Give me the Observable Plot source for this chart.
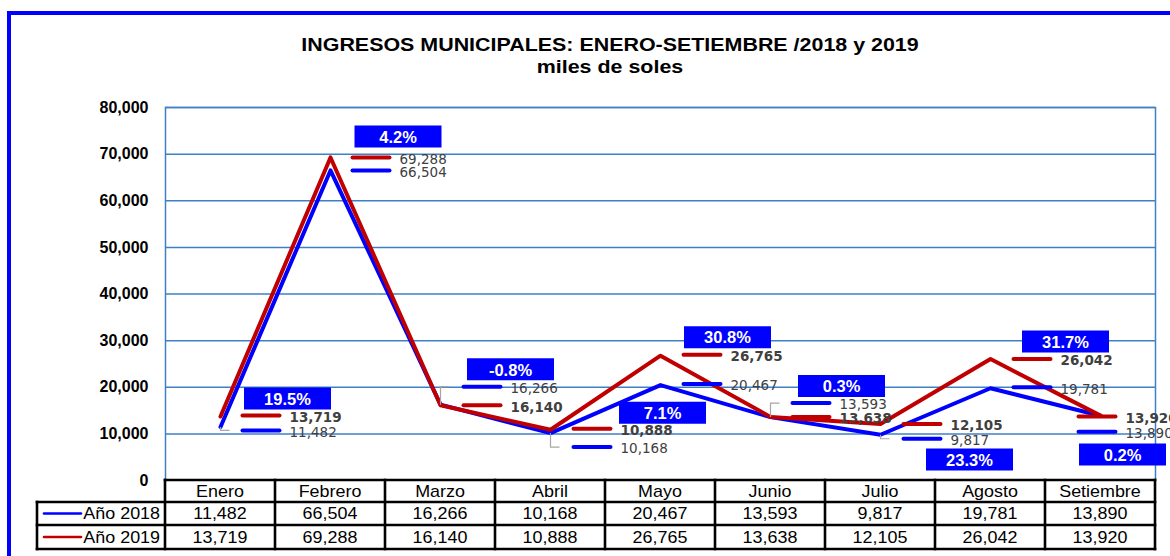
<!DOCTYPE html>
<html><head><meta charset="utf-8">
<script src="https://cdn.jsdelivr.net/npm/d3@7"></script>
<script src="https://cdn.jsdelivr.net/npm/@observablehq/plot@0.6"></script>
<style>
body{margin:0;background:#fff;}
#wrap{position:relative;width:1170px;height:556px;overflow:hidden;background:#fff;font-family:"Liberation Sans",Arial,sans-serif;}
#frame{position:absolute;left:7px;top:11px;width:1300px;height:700px;border-left:4px solid #0000ff;border-top:4px solid #0000ff;}
.t{position:absolute;left:0;width:1220px;text-align:center;font-weight:bold;font-size:18px;line-height:20px;color:#000;transform:scaleX(1.19);transform-origin:610px 0;}
#chart{position:absolute;left:0;top:0;}
</style></head>
<body>
<div id="wrap">
  <div id="frame"></div>
  <div id="chart"></div>
  <div class="t" id="title" style="top:35px">INGRESOS MUNICIPALES: ENERO-SETIEMBRE /2018 y 2019</div>
  <div class="t" id="subtitle" style="top:57px">miles de soles</div>
</div>
<script>
// ---- data ----
const months = ["Enero","Febrero","Marzo","Abril","Mayo","Junio","Julio","Agosto","Setiembre"];
const y2018 = [11482, 66504, 16266, 10168, 20467, 13593, 9817, 19781, 13890];
const y2019 = [13719, 69288, 16140, 10888, 26765, 13638, 12105, 26042, 13920];
const pctLabels = ["19.5%", "4.2%", "-0.8%", "7.1%", "30.8%", "0.3%", "23.3%", "31.7%", "0.2%"];
const seriesNames = ["Año 2018", "Año 2019"];
const yTicks = [0, 10000, 20000, 30000, 40000, 50000, 60000, 70000, 80000];

// ---- label layout (pixel offsets from each point / month) ----
const keyDx    = [20, 20, 21, 21, 21, 20, 21, 21, -24];
const key2019Dy = [-1, 0, 0, -1, -1, 0, 0, 0, 1];
const key2018Dy = [3.5, 0, -18, 14, -1, -14, 4, -1, 16];
const bold2019  = [true, false, true, true, true, true, true, true, true];
const leader2018 = [true, false, true, true, false, true, true, false, false];
const boxDx = [67, 67.5, 70, 112, 67, 71, 89, 75, 22];
const boxDy = [-18, -21, -36, -17, -18.5, -31, 35.5, -17.5, 39];

const BLUE = "#0000ff", RED = "#c00000", GRID = "#3f7fc6", LABEL = "#404040";
const fmt = d3.format(",");

const rows2018 = months.map((m, i) => ({m, v: y2018[i]}));
const rows2019 = months.map((m, i) => ({m, v: y2019[i]}));

const keySym = {draw(ctx) { ctx.moveTo(2, 0); ctx.lineTo(39, 0); }};
const boxSym = {draw(ctx) { ctx.rect(-43.5, -11, 87, 22); }};
const leaderSym = (ly) => ({draw(ctx) { ctx.moveTo(0, 0); ctx.lineTo(0, ly); ctx.lineTo(9, ly); }});

const marks = [
  Plot.ruleY(yTicks.filter(d => d > 0), {y: d => d, stroke: GRID, strokeWidth: 1.5}),
  Plot.frame({stroke: GRID, strokeWidth: 1.5}),
  Plot.text(yTicks, {y: d => d, frameAnchor: "left", text: d => fmt(d), textAnchor: "end", dx: -17,
    fontWeight: "bold", fontSize: 16, fill: "#000", fontFamily: "Liberation Sans, Arial, sans-serif"}),
  Plot.line(rows2018, {x: "m", y: "v", stroke: BLUE, strokeWidth: 4}),
  Plot.line(rows2019, {x: "m", y: "v", stroke: RED, strokeWidth: 4})
];

months.forEach((m, i) => {
  const d18 = [rows2018[i]], d19 = [rows2019[i]];
  if (leader2018[i]) {
    marks.push(Plot.dot(d18, {x: "m", y: "v", symbol: leaderSym(key2018Dy[i]), fill: "none", stroke: "#a6a6a6", strokeWidth: 1.2}));
  }
  marks.push(Plot.dot(d19, {x: "m", y: "v", symbol: keySym, fill: "none", stroke: RED, strokeWidth: 4, strokeLinecap: "round", dx: keyDx[i], dy: key2019Dy[i]}));
  marks.push(Plot.dot(d18, {x: "m", y: "v", symbol: keySym, fill: "none", stroke: BLUE, strokeWidth: 4, strokeLinecap: "round", dx: keyDx[i], dy: key2018Dy[i]}));
  marks.push(Plot.text(d19, {x: "m", y: "v", text: d => fmt(d.v), textAnchor: "start", dx: keyDx[i] + 49, dy: key2019Dy[i] + 2,
    fontFamily: "DejaVu Sans", fontSize: 13.5, fontWeight: bold2019[i] ? "bold" : "normal", fill: LABEL}));
  marks.push(Plot.text(d18, {x: "m", y: "v", text: d => fmt(d.v), textAnchor: "start", dx: keyDx[i] + 49, dy: key2018Dy[i] + 2,
    fontFamily: "DejaVu Sans", fontSize: 13.5, fontWeight: "normal", fill: LABEL}));
  marks.push(Plot.dot(d19, {x: "m", y: "v", symbol: boxSym, fill: BLUE, stroke: "none", dx: boxDx[i], dy: boxDy[i]}));
  marks.push(Plot.text(d19, {x: "m", y: "v", text: () => pctLabels[i], dx: boxDx[i], dy: boxDy[i] + 1,
    fill: "#fff", fontWeight: "bold", fontSize: 16.5, fontFamily: "Liberation Sans, Arial, sans-serif"}));
});

const chart = Plot.plot({
  width: 1170, height: 556,
  marginLeft: 165, marginRight: 15, marginTop: 107, marginBottom: 76,
  x: {type: "point", domain: months, padding: 0.5, axis: null},
  y: {domain: [0, 80000], axis: null},
  style: {background: "transparent", fontFamily: "Liberation Sans, Arial, sans-serif", fontSize: "13px", overflow: "visible"},
  marks
});
document.getElementById("chart").appendChild(chart);

// ---- data table below the chart, positioned with the chart's scales ----
const xs = chart.scale("x"), ys = chart.scale("y");
const step = xs.apply(months[1]) - xs.apply(months[0]);
const left = xs.apply(months[0]) - step / 2;
const right = xs.apply(months[months.length - 1]) + step / 2;
const y0 = ys.apply(0);
const rowH = [22, 23, 24];
const rY = [y0, y0 + rowH[0], y0 + rowH[0] + rowH[1], y0 + rowH[0] + rowH[1] + rowH[2]];
const legLeft = 37;
const svg = d3.select(chart);
const g = svg.append("g").attr("font-family", "Liberation Sans, Arial, sans-serif").attr("font-size", 16).attr("fill", "#000");
g.append("rect").attr("x", left).attr("y", rY[0]).attr("width", right - left).attr("height", rY[1] - rY[0]).attr("fill", "#fff");
g.append("rect").attr("x", legLeft).attr("y", rY[1]).attr("width", right - legLeft).attr("height", rY[3] - rY[1]).attr("fill", "#fff");
const line = (x1, y1, x2, y2) => g.append("line").attr("x1", x1).attr("y1", y1).attr("x2", x2).attr("y2", y2)
  .attr("stroke", "#000").attr("stroke-width", 2.6).attr("stroke-linecap", "square");
line(left, rY[0], right, rY[0]);
[1, 2, 3].forEach(k => line(legLeft, rY[k], right, rY[k]));
months.forEach((m, i) => line(left + i * step, rY[0], left + i * step, rY[3]));
line(right, rY[0], right, rY[3]);
line(legLeft, rY[1], legLeft, rY[3]);
const cy = k => (rY[k] + rY[k + 1]) / 2;
const cellText = (x, y, anchor, s) => g.append("text")
  .attr("transform", `translate(${x},${y}) scale(1.12,1)`)
  .attr("dy", "0.36em").attr("text-anchor", anchor).text(s);
months.forEach((m, i) => {
  const cx = xs.apply(m);
  cellText(cx, cy(0), "middle", m);
  cellText(cx, cy(1), "middle", fmt(y2018[i]));
  cellText(cx, cy(2), "middle", fmt(y2019[i]));
});
[[BLUE, 1], [RED, 2]].forEach(([c, k], j) => {
  g.append("line").attr("x1", legLeft + 7).attr("x2", legLeft + 44).attr("y1", cy(k)).attr("y2", cy(k))
    .attr("stroke", c).attr("stroke-width", 2.6).attr("stroke-linecap", "round");
  cellText(left - 5, cy(k), "end", seriesNames[j]);
});
</script>
</body></html>
